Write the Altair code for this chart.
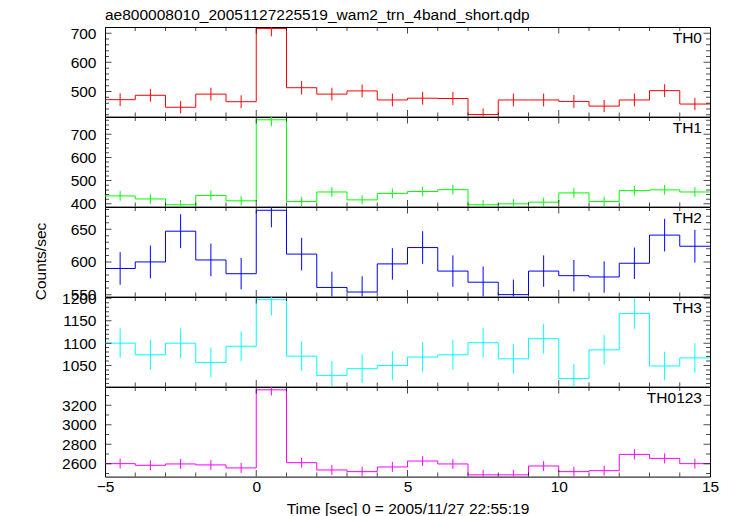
import altair as alt
import pandas as pd

# ---- data ----
BIN_CENTERS = [-4.5, -3.5, -2.5, -1.5, -0.5, 0.5, 1.5, 2.5, 3.5, 4.5,
               5.5, 6.5, 7.5, 8.5, 9.5, 10.5, 11.5, 12.5, 13.5, 14.5]
BIN_EDGES = [-5, -4, -3, -2, -1, 0, 1, 2, 3, 4, 5, 6, 7, 8, 9, 10, 11, 12, 13, 14, 15]

TH0 = [472, 487, 446, 491, 465, 716, 513, 491, 502, 471,
       477, 476, 421, 471, 471, 466, 450, 471, 503, 457]
TH0_ERR = [22, 22, 21, 22, 22, 27, 23, 22, 22, 22,
           22, 22, 21, 22, 22, 22, 21, 22, 22, 21]

TH1 = [434, 421, 396, 436, 413, 762, 410, 451, 417, 445,
       453, 461, 396, 400, 407, 447, 410, 457, 460, 451]
TH1_ERR = [21, 21, 20, 21, 20, 28, 20, 21, 20, 21,
           21, 21, 20, 20, 20, 21, 20, 21, 21, 21]

TH2 = [590, 600, 647, 603, 582, 679, 612, 561, 554, 597,
       622, 586, 569, 550, 586, 579, 577, 598, 641, 624]
TH2_ERR = [25, 25, 26, 25, 24, 26, 25, 24, 24, 24,
           25, 24, 24, 23, 24, 24, 24, 24, 25, 25]

TH3 = [1100, 1074, 1100, 1057, 1093, 1197, 1071, 1028, 1043, 1050,
       1069, 1074, 1101, 1065, 1110, 1021, 1085, 1166, 1049, 1067]
TH3_ERR = [33, 33, 33, 33, 33, 35, 33, 32, 32, 32,
           33, 33, 33, 33, 33, 32, 33, 34, 32, 33]

TH0123 = [2600, 2583, 2597, 2587, 2556, 3358, 2610, 2535, 2518, 2566,
          2627, 2597, 2485, 2485, 2576, 2518, 2528, 2695, 2654, 2600]
TH0123_ERR = [51, 51, 51, 51, 51, 58, 51, 50, 50, 51,
              51, 51, 50, 50, 51, 50, 50, 52, 52, 51]

PANEL_NAMES = ["TH0", "TH1", "TH2", "TH3", "TH0123"]
PANEL_COLORS = ["#ff0000", "#00ff00", "#0000ff", "#00ffff", "#ff00ff"]
PANEL_VALUES = [TH0, TH1, TH2, TH3, TH0123]
PANEL_ERRORS = [TH0_ERR, TH1_ERR, TH2_ERR, TH3_ERR, TH0123_ERR]
PANEL_DOMAINS = [[414, 721], [388, 774], [547, 684], [1003, 1203], [2467, 3387]]
PANEL_MAJOR = [[500, 600, 700], [400, 500, 600, 700], [550, 600, 650],
               [1050, 1100, 1150, 1200], [2600, 2800, 3000, 3200]]
PANEL_MINOR_STEP = [20, 20, 10, 10, 100]

X_MAJOR = [0, 5, 10]
X_MINOR = [-4, -3, -2, -1, 1, 2, 3, 4, 6, 7, 8, 9, 11, 12, 13, 14]
X_LABELS = [-5, 0, 5, 10, 15]

TITLE = "ae800008010_20051127225519_wam2_trn_4band_short.qdp"
X_TITLE = "Time [sec] 0 = 2005/11/27 22:55:19"
Y_TITLE = "Counts/sec"

FONT = "Liberation Sans"
FS = 15.5
W = 605
H = 89.6


def make_panel(i):
    name = PANEL_NAMES[i]
    color = PANEL_COLORS[i]
    vals = PANEL_VALUES[i]
    errs = PANEL_ERRORS[i]
    dom = PANEL_DOMAINS[i]
    major = PANEL_MAJOR[i]
    step = PANEL_MINOR_STEP[i]
    bottom = i == len(PANEL_NAMES) - 1

    lo_t = int(dom[0] // step) * step
    minor = [v for v in range(lo_t, int(dom[1]) + step, step)
             if dom[0] <= v <= dom[1] and v not in major]

    xscale = alt.Scale(domain=[-5, 15], nice=False, zero=False)
    yscale = alt.Scale(domain=dom, nice=False, zero=False)

    if bottom:
        xaxis = alt.Axis(values=X_LABELS, format="d", title=X_TITLE, ticks=False,
                         domain=False, grid=False, labelFontSize=FS, labelPadding=3,
                         labelFlush=False, labelOverlap=False, titleFontSize=FS,
                         titleFontWeight="normal", titleBaseline="alphabetic",
                         titleY=36.5)
    else:
        xaxis = None

    yaxis_kw = dict(values=major, format="d", ticks=False, domain=False, grid=False,
                    labelFontSize=FS, labelPadding=9, labelFlush=False,
                    labelOverlap=False, labelBaseline="middle")
    if i == 2:
        yaxis = alt.Axis(title=Y_TITLE, titleFontSize=FS, titleFontWeight="normal",
                         titleX=-59.5, titleY=54, titleAngle=270,
                         titleBaseline="alphabetic", titleAlign="center", **yaxis_kw)
    else:
        yaxis = alt.Axis(title=None, **yaxis_kw)

    def X(field):
        return alt.X(field, type="quantitative", scale=xscale, axis=xaxis)

    def Y(field):
        return alt.Y(field, type="quantitative", scale=yscale, axis=yaxis)

    step_df = pd.DataFrame({"t": BIN_EDGES, "v": vals + [vals[-1]]})
    err_df = pd.DataFrame({"t": BIN_CENTERS,
                           "lo": [v - e for v, e in zip(vals, errs)],
                           "hi": [v + e for v, e in zip(vals, errs)]})

    line = alt.Chart(step_df).mark_line(
        interpolate="step-after", color=color, strokeWidth=1, clip=True
    ).encode(x=X("t"), y=Y("v"))

    ebar = alt.Chart(err_df).mark_rule(color=color, strokeWidth=1, clip=True).encode(
        x=X("t"), y=Y("lo"), y2="hi:Q")

    ymaj_df = pd.DataFrame({"t": [-5] * len(major) + [15] * len(major),
                            "v": major + major})
    ymin_df = pd.DataFrame({"t": [-5] * len(minor) + [15] * len(minor),
                            "v": minor + minor})
    ymaj = alt.Chart(ymaj_df).mark_tick(orient="horizontal", size=13, thickness=1,
                                        color="black", clip=True).encode(x=X("t"), y=Y("v"))
    ymin = alt.Chart(ymin_df).mark_tick(orient="horizontal", size=8, thickness=1,
                                        color="black", clip=True).encode(x=X("t"), y=Y("v"))

    xmaj_df = pd.DataFrame({"t": X_MAJOR + X_MAJOR,
                            "v": [dom[0]] * len(X_MAJOR) + [dom[1]] * len(X_MAJOR)})
    xmin_df = pd.DataFrame({"t": X_MINOR + X_MINOR,
                            "v": [dom[0]] * len(X_MINOR) + [dom[1]] * len(X_MINOR)})
    xmaj = alt.Chart(xmaj_df).mark_tick(orient="vertical", size=13, thickness=1,
                                        color="black", clip=True).encode(x=X("t"), y=Y("v"))
    xmin = alt.Chart(xmin_df).mark_tick(orient="vertical", size=8, thickness=1,
                                        color="black", clip=True).encode(x=X("t"), y=Y("v"))

    label = alt.Chart(pd.DataFrame({"name": [name]})).mark_text(
        align="right", baseline="alphabetic", fontSize=FS, font=FONT, color="black"
    ).encode(x=alt.value(W - 8), y=alt.value(15.5), text="name:N")

    return alt.layer(line, ebar, ymaj, ymin, xmaj, xmin, label).properties(
        width=W, height=H)


chart = alt.vconcat(*[make_panel(i) for i in range(len(PANEL_NAMES))],
                    spacing=0, bounds="flush").properties(
    title=alt.TitleParams(TITLE, anchor="start", frame="group", fontSize=FS,
                          fontWeight="normal", font=FONT, color="black",
                          baseline="alphabetic", offset=-10),
    padding={"left": 25, "top": 0, "right": 0, "bottom": 0},
).configure_view(stroke="black", strokeWidth=1).configure_axis(
    labelFont=FONT, titleFont=FONT, labelColor="black", titleColor="black"
).configure_concat(spacing=0)

chart.save("out.html", embed_options={"renderer": "svg", "actions": False})
